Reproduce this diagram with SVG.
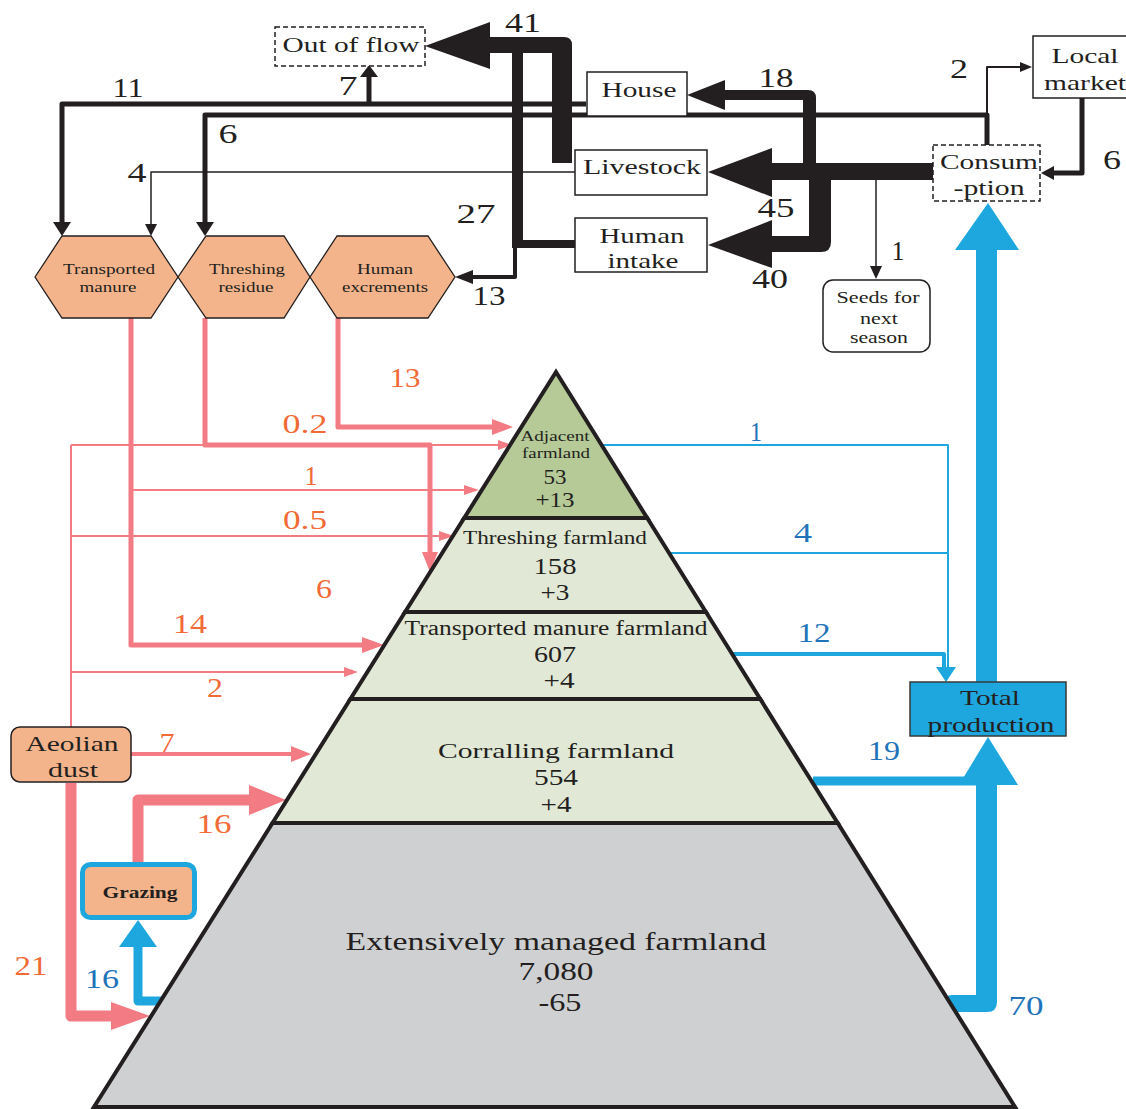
<svg xmlns="http://www.w3.org/2000/svg" width="1126" height="1109" viewBox="0 0 1126 1109">
<style>
text{font-family:"Liberation Serif","Times New Roman",serif;text-anchor:middle;fill:#231F20}
.box{fill:#fff;stroke:#231F20;stroke-width:1.5}
.dash{fill:#fff;stroke:#231F20;stroke-width:1.5;stroke-dasharray:5 3}
.hex{fill:#F4B48B;stroke:#231F20;stroke-width:1.3}
.blk{fill:none;stroke:#231F20;stroke-linejoin:round}
.bf{fill:#231F20}
.pk{fill:none;stroke:#F37B83;stroke-linejoin:round}
.pf{fill:#F37B83}
.bl{fill:none;stroke:#1EA7DF;stroke-linejoin:round}
.blf{fill:#1EA7DF}
.num{font-size:28px}
.or{fill:#F26A36}
.bt{fill:#2272B9}
.lbl{font-size:22px}
.hx{font-size:15px}
.layer{stroke:#231F20;stroke-width:4;stroke-linejoin:miter}
</style>

<g id="connectors">
  <!-- black flows -->
  <path class="bf" d="M488,37 H564 Q572,37 572,45 V163 H552 V53 H488 Z"/>
  <polygon class="bf" points="425,46 490,22 490,69"/>
  <path class="bf" d="M512,53 H523 V240 H575 V248 H512 Z"/>
  <polyline class="blk" stroke-width="4" points="515,248 515,277 472,277"/>
  <polygon class="bf" points="455,277 473,270 473,284"/>
  <polyline class="blk" stroke-width="5" points="586,104 62,104 62,222"/>
  <polygon class="bf" points="53,222 71,222 62,236"/>
  <line class="blk" stroke-width="5" x1="369" y1="104" x2="369" y2="76"/>
  <polygon class="bf" points="360,77 378,77 369,65"/>
  <polyline class="blk" stroke-width="5" points="987,145 987,115 205,115 205,222"/>
  <polygon class="bf" points="196,222 214,222 205,236"/>
  <polyline class="blk" stroke-width="2" points="987,115 987,67 1021,67"/>
  <polygon class="bf" points="1020,62 1020,72 1032,67"/>
  <polyline class="blk" stroke-width="1.5" points="575,172 151,172 151,225"/>
  <polygon class="bf" points="145,224 157,224 151,236"/>
  <polyline class="blk" stroke-width="5" points="1082,98 1082,173 1054,173"/>
  <polygon class="bf" points="1054,166 1054,180 1041,173"/>
  <rect class="bf" x="770" y="163" width="164" height="17"/>
  <polygon class="bf" points="708,172 772,148 772,197"/>
  <path class="bf" d="M816,172 V98 Q816,90 808,90 H724 V100 H803 V172 Z"/>
  <polygon class="bf" points="687,95 725,80 725,110"/>
  <path class="bf" d="M809,172 H831 V242 Q831,252 821,252 H770 V236 H809 Z"/>
  <polygon class="bf" points="708,245 772,220 772,268"/>
  <line class="blk" stroke-width="1.5" x1="876" y1="180" x2="876" y2="268"/>
  <polygon class="bf" points="870,266 882,266 876,279"/>

  <!-- pink flows -->
  <polyline class="pk" stroke-width="5" points="131,318 131,645 364,645"/>
  <polygon class="pf" points="362,637 362,653 384,645"/>
  <line class="pk" stroke-width="2" x1="131" y1="490" x2="466" y2="490"/>
  <polygon class="pf" points="464,485 464,495 479,490"/>
  <polyline class="pk" stroke-width="5" points="205,318 205,445 430,445 430,554"/>
  <polygon class="pf" points="422,552 438,552 430,572"/>
  <polyline class="pk" stroke-width="5" points="338,318 338,427 494,427"/>
  <polygon class="pf" points="492,419 492,435 513,427"/>
  <line class="pk" stroke-width="2" x1="71" y1="727" x2="71" y2="445"/>
  <line class="pk" stroke-width="2" x1="71" y1="445" x2="500" y2="445"/>
  <polygon class="pf" points="498,440 498,450 512,445"/>
  <line class="pk" stroke-width="2" x1="71" y1="536" x2="441" y2="536"/>
  <polygon class="pf" points="439,531 439,541 454,536"/>
  <line class="pk" stroke-width="2" x1="71" y1="672" x2="346" y2="672"/>
  <polygon class="pf" points="344,667 344,677 358,672"/>
  <line class="pk" stroke-width="4" x1="131" y1="754" x2="293" y2="754"/>
  <polygon class="pf" points="291,746 291,762 311,754"/>
  <polyline class="pk" stroke-width="11" points="71,783 71,1016 113,1016"/>
  <polygon class="pf" points="111,1002 111,1030 150,1016"/>
  <polyline class="pk" stroke-width="11" points="138,862 138,800 251,800"/>
  <polygon class="pf" points="249,785 249,815 286,800"/>

  <!-- blue flows -->
  <polyline class="bl" stroke-width="9" points="163,1001 138,1001 138,945"/>
  <polygon class="blf" points="119,947 157,947 138,920"/>
  <polyline class="bl" stroke-width="2" points="602,445 948,445 948,668"/>
  <line class="bl" stroke-width="2" x1="670" y1="553" x2="948" y2="553"/>
  <polyline class="bl" stroke-width="4" points="731,654 944,654 944,668"/>
  <polygon class="blf" points="936,667 956,667 946,682"/>
  <line class="bl" stroke-width="9" x1="813" y1="781" x2="980" y2="781"/>
  <path class="blf" d="M946,995 H976 V783 H997 V1002 Q997,1012 987,1012 H950 Q944,1012 944,1004 Q944,995 952,995 Z"/>
  <polygon class="blf" points="959,785 1018,785 988,737"/>
  <rect class="blf" x="976" y="248" width="21" height="436"/>
  <polygon class="blf" points="955,250 1019,250 988,203"/>
</g>

<g id="pyramid">
  <polygon id="layer-extensive" class="layer" fill="#CFD0D2" points="272.5,823 837.7,823 1015,1107 94,1107"/>
  <polygon id="layer-corralling" class="layer" fill="#E1E8D5" points="350.4,699 760.2,699 837.7,823 272.5,823"/>
  <polygon id="layer-transported" class="layer" fill="#E1E8D5" points="405.1,612 705.9,612 760.2,699 350.4,699"/>
  <polygon id="layer-threshing" class="layer" fill="#E1E8D5" points="464.2,518 647.2,518 705.9,612 405.1,612"/>
  <polygon id="layer-adjacent" class="layer" fill="#B5CA97" points="556,372 647.2,518 464.2,518"/>
  <text x="555" y="441" font-size="15" textLength="69" lengthAdjust="spacingAndGlyphs">Adjacent</text>
  <text x="556" y="458" font-size="15" textLength="68" lengthAdjust="spacingAndGlyphs">farmland</text>
  <text x="555" y="484" font-size="21" textLength="23" lengthAdjust="spacingAndGlyphs">53</text>
  <text x="555" y="507" font-size="21" textLength="39" lengthAdjust="spacingAndGlyphs">+13</text>
  <text x="555" y="544" font-size="19" textLength="184" lengthAdjust="spacingAndGlyphs">Threshing farmland</text>
  <text x="555" y="574" font-size="23" textLength="43" lengthAdjust="spacingAndGlyphs">158</text>
  <text x="555" y="600" font-size="23" textLength="29" lengthAdjust="spacingAndGlyphs">+3</text>
  <text x="556" y="635" font-size="20" textLength="303" lengthAdjust="spacingAndGlyphs">Transported manure farmland</text>
  <text x="555" y="662" font-size="23" textLength="42" lengthAdjust="spacingAndGlyphs">607</text>
  <text x="559" y="688" font-size="23" textLength="31" lengthAdjust="spacingAndGlyphs">+4</text>
  <text x="556" y="758" font-size="22" textLength="236" lengthAdjust="spacingAndGlyphs">Corralling farmland</text>
  <text x="556" y="785" font-size="23" textLength="44" lengthAdjust="spacingAndGlyphs">554</text>
  <text x="556" y="812" font-size="23" textLength="31" lengthAdjust="spacingAndGlyphs">+4</text>
  <text x="556" y="950" font-size="25" textLength="421" lengthAdjust="spacingAndGlyphs">Extensively managed farmland</text>
  <text x="556" y="980" font-size="26" textLength="75" lengthAdjust="spacingAndGlyphs">7,080</text>
  <text x="560" y="1011" font-size="26" textLength="43" lengthAdjust="spacingAndGlyphs">-65</text>
</g>

<g id="out-of-flow">
  <rect class="dash" x="275" y="27" width="150" height="39"/>
  <text class="lbl" x="351" y="52" font-size="24" textLength="137" lengthAdjust="spacingAndGlyphs">Out of flow</text>
</g>
<g id="house">
  <rect class="box" x="587" y="72" width="100" height="44"/>
  <text class="lbl" x="639" y="97" textLength="75" lengthAdjust="spacingAndGlyphs">House</text>
</g>
<g id="livestock">
  <rect class="box" x="575" y="150" width="132" height="45"/>
  <text class="lbl" x="642" y="174" textLength="118" lengthAdjust="spacingAndGlyphs">Livestock</text>
</g>
<g id="human-intake">
  <rect class="box" x="575" y="218" width="132" height="54"/>
  <text class="lbl" x="642" y="243" textLength="85" lengthAdjust="spacingAndGlyphs">Human</text>
  <text class="lbl" x="643" y="268" textLength="71" lengthAdjust="spacingAndGlyphs">intake</text>
</g>
<g id="consumption">
  <rect class="dash" x="933" y="145" width="107" height="56"/>
  <text class="lbl" x="989" y="169" textLength="98" lengthAdjust="spacingAndGlyphs">Consum</text>
  <text class="lbl" x="989" y="195" textLength="71" lengthAdjust="spacingAndGlyphs">-ption</text>
</g>
<g id="local-market">
  <rect class="box" x="1033" y="36" width="100" height="62"/>
  <text class="lbl" x="1085" y="63" textLength="67" lengthAdjust="spacingAndGlyphs">Local</text>
  <text class="lbl" x="1085" y="90" textLength="82" lengthAdjust="spacingAndGlyphs">market</text>
</g>
<g id="seeds">
  <rect class="box" x="823" y="280" width="107" height="72" rx="10"/>
  <text x="878" y="303" font-size="16" textLength="83" lengthAdjust="spacingAndGlyphs">Seeds for</text>
  <text x="879" y="324" font-size="16" textLength="38" lengthAdjust="spacingAndGlyphs">next</text>
  <text x="879" y="343" font-size="16" textLength="58" lengthAdjust="spacingAndGlyphs">season</text>
</g>
<g id="total-production">
  <rect x="910" y="682" width="156" height="54" fill="#1EA7DF" stroke="#3a3a3a" stroke-width="1.5"/>
  <text class="lbl" x="990" y="705" textLength="60" lengthAdjust="spacingAndGlyphs">Total</text>
  <text class="lbl" x="991" y="732" textLength="127" lengthAdjust="spacingAndGlyphs">production</text>
</g>
<g id="transported-manure">
  <polygon class="hex" points="35,277 62,236 151,236 178,277 151,318 62,318"/>
  <text class="hx" x="109" y="274" textLength="92" lengthAdjust="spacingAndGlyphs">Transported</text>
  <text class="hx" x="108" y="292" textLength="57" lengthAdjust="spacingAndGlyphs">manure</text>
</g>
<g id="threshing-residue">
  <polygon class="hex" points="178,277 206,236 284,236 310,277 284,318 206,318"/>
  <text class="hx" x="247" y="274" textLength="76" lengthAdjust="spacingAndGlyphs">Threshing</text>
  <text class="hx" x="246" y="292" textLength="55" lengthAdjust="spacingAndGlyphs">residue</text>
</g>
<g id="human-excrements">
  <polygon class="hex" points="310,277 337,236 428,236 455,277 428,318 337,318"/>
  <text class="hx" x="385" y="274" textLength="56" lengthAdjust="spacingAndGlyphs">Human</text>
  <text class="hx" x="385" y="292" textLength="86" lengthAdjust="spacingAndGlyphs">excrements</text>
</g>
<g id="aeolian-dust">
  <rect x="11" y="727" width="120" height="55" rx="9" fill="#F4B48B" stroke="#231F20" stroke-width="1.5"/>
  <text class="lbl" x="72" y="751" textLength="93" lengthAdjust="spacingAndGlyphs">Aeolian</text>
  <text class="lbl" x="73" y="777" textLength="50" lengthAdjust="spacingAndGlyphs">dust</text>
</g>
<g id="grazing">
  <rect x="82.5" y="864.5" width="112" height="53" rx="8" fill="#F4B48B" stroke="#1EA7DF" stroke-width="5"/>
  <text x="140" y="898" font-size="16" font-weight="bold" textLength="75" lengthAdjust="spacingAndGlyphs">Grazing</text>
</g>

<g id="labels">
  <text class="num" x="523" y="32" textLength="36" lengthAdjust="spacingAndGlyphs">41</text>
  <text class="num" x="128" y="97" textLength="31" lengthAdjust="spacingAndGlyphs">11</text>
  <text class="num" x="348" y="95" textLength="19" lengthAdjust="spacingAndGlyphs">7</text>
  <text class="num" x="228" y="143" textLength="19" lengthAdjust="spacingAndGlyphs">6</text>
  <text class="num" x="137" y="182" textLength="19" lengthAdjust="spacingAndGlyphs">4</text>
  <text class="num" x="476" y="223" textLength="39" lengthAdjust="spacingAndGlyphs">27</text>
  <text class="num" x="489" y="305" textLength="33" lengthAdjust="spacingAndGlyphs">13</text>
  <text class="num" x="776" y="87" textLength="35" lengthAdjust="spacingAndGlyphs">18</text>
  <text class="num" x="776" y="217" textLength="37" lengthAdjust="spacingAndGlyphs">45</text>
  <text class="num" x="770" y="288" textLength="36" lengthAdjust="spacingAndGlyphs">40</text>
  <text class="num" x="959" y="78" textLength="18" lengthAdjust="spacingAndGlyphs">2</text>
  <text class="num" x="1112" y="169" textLength="18" lengthAdjust="spacingAndGlyphs">6</text>
  <text class="num" x="898" y="260" textLength="13" lengthAdjust="spacingAndGlyphs">1</text>

  <text class="num or" x="405" y="387" textLength="31" lengthAdjust="spacingAndGlyphs">13</text>
  <text class="num or" x="305" y="433" textLength="45" lengthAdjust="spacingAndGlyphs">0.2</text>
  <text class="num or" x="311" y="485" textLength="13" lengthAdjust="spacingAndGlyphs">1</text>
  <text class="num or" x="305" y="529" textLength="44" lengthAdjust="spacingAndGlyphs">0.5</text>
  <text class="num or" x="324" y="598" textLength="16" lengthAdjust="spacingAndGlyphs">6</text>
  <text class="num or" x="190" y="633" textLength="34" lengthAdjust="spacingAndGlyphs">14</text>
  <text class="num or" x="215" y="697" textLength="16" lengthAdjust="spacingAndGlyphs">2</text>
  <text class="num or" x="167" y="752" textLength="15" lengthAdjust="spacingAndGlyphs">7</text>
  <text class="num or" x="214" y="833" textLength="35" lengthAdjust="spacingAndGlyphs">16</text>
  <text class="num or" x="31" y="975" textLength="33" lengthAdjust="spacingAndGlyphs">21</text>

  <text class="num bt" x="102" y="988" textLength="34" lengthAdjust="spacingAndGlyphs">16</text>
  <text class="num bt" x="756" y="441" textLength="12" lengthAdjust="spacingAndGlyphs">1</text>
  <text class="num bt" x="803" y="542" textLength="18" lengthAdjust="spacingAndGlyphs">4</text>
  <text class="num bt" x="814" y="642" textLength="33" lengthAdjust="spacingAndGlyphs">12</text>
  <text class="num bt" x="884" y="760" textLength="32" lengthAdjust="spacingAndGlyphs">19</text>
  <text class="num bt" x="1026" y="1015" textLength="35" lengthAdjust="spacingAndGlyphs">70</text>
</g>
</svg>
